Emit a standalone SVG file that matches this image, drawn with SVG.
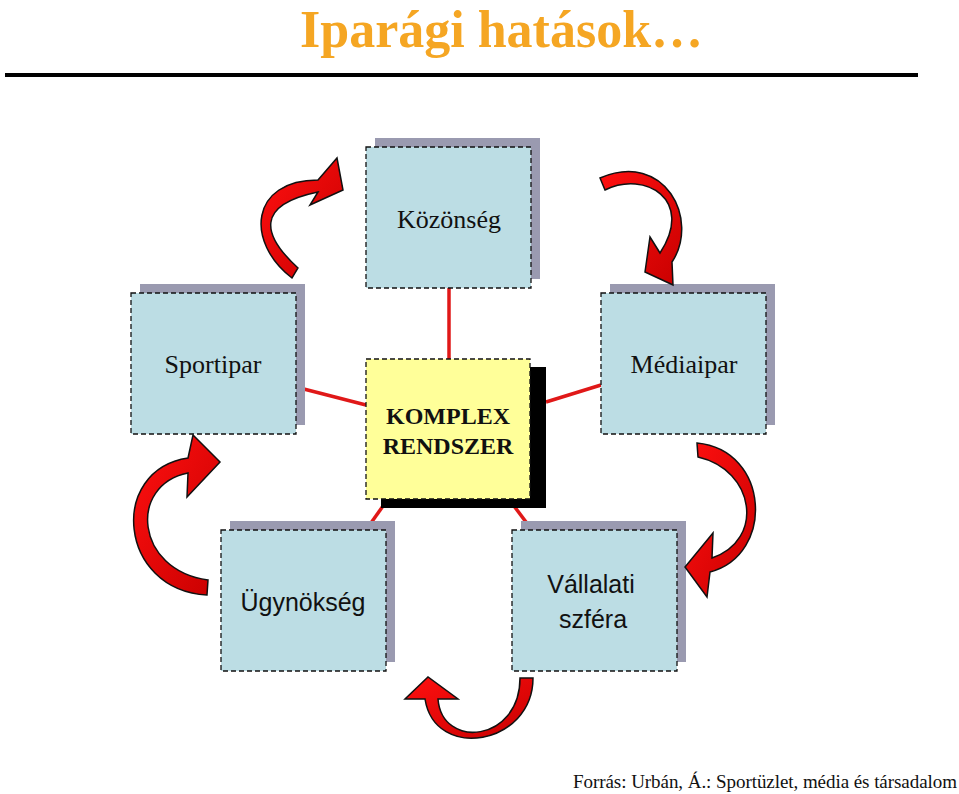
<svg xmlns="http://www.w3.org/2000/svg" width="959" height="794" viewBox="0 0 959 794">
<defs>
<linearGradient id="rg" x1="0" y1="0" x2="1" y2="1"><stop offset="0" stop-color="#ff1010"/><stop offset="1" stop-color="#c80000"/></linearGradient>
</defs>
<style>
.sh{fill:#9a9ab0}
.bx{fill:#bcdde4;stroke:#111;stroke-width:1.3;stroke-dasharray:5 3}
.t{font-family:"Liberation Serif",serif;font-size:26px;fill:#111;text-anchor:middle}
.s{font-family:"Liberation Sans",sans-serif;font-size:25px;fill:#111;text-anchor:middle}
.ar{fill:url(#rg);stroke:#111;stroke-width:1.5;stroke-linejoin:miter}
.ln{stroke:#e01818;stroke-width:3.5}
</style>
<rect width="959" height="794" fill="#fff"/>
<text x="300" y="47" font-family="Liberation Serif,serif" font-size="52" font-weight="bold" fill="#f5a623">Iparági hatások…</text>
<line x1="5" y1="75" x2="918" y2="75" stroke="#000" stroke-width="4"/>
<g id="connectors">
<line class="ln" x1="449" y1="288" x2="449" y2="359"/>
<line class="ln" x1="296" y1="387" x2="366" y2="405"/>
<line class="ln" x1="601" y1="385" x2="546" y2="402"/>
<line class="ln" x1="383" y1="506" x2="366" y2="530"/>
<line class="ln" x1="514" y1="506" x2="532" y2="530"/>
</g>
<g id="kozonseg"><rect class="sh" x="375" y="138" width="165" height="141"/><rect class="bx" x="366" y="147" width="165" height="141"/><text class="t" x="449" y="228">Közönség</text></g>
<g id="sportipar"><rect class="sh" x="140" y="284" width="165" height="141"/><rect class="bx" x="131" y="293" width="165" height="141"/><text class="t" x="213" y="373">Sportipar</text></g>
<g id="mediaipar"><rect class="sh" x="610" y="284" width="165" height="141"/><rect class="bx" x="601" y="293" width="165" height="141"/><text class="t" x="684" y="373">Médiaipar</text></g>
<g id="ugynokseg"><rect class="sh" x="230" y="521" width="165" height="141"/><rect class="bx" x="221" y="530" width="165" height="141"/><text class="s" x="303" y="611">Ügynökség</text></g>
<g id="vallalati"><rect class="sh" x="521" y="521" width="165" height="141"/><rect class="bx" x="512" y="530" width="165" height="141"/><text class="s" x="591" y="593">Vállalati</text><text class="s" x="593" y="628">szféra</text></g>
<g id="komplex"><rect x="381" y="367" width="165" height="141" fill="#000"/><rect x="366" y="359" width="164" height="140" fill="#ffff99" stroke="#111" stroke-width="1.3" stroke-dasharray="5 3"/><text x="448" y="424" font-family="Liberation Serif,serif" font-size="24" font-weight="bold" text-anchor="middle" fill="#111">KOMPLEX</text><text x="448" y="454" font-family="Liberation Serif,serif" font-size="24" font-weight="bold" text-anchor="middle" fill="#111">RENDSZER</text></g>
<g id="arrows">
<path class="ar" d="M298,268 C262,235 255,205 318,192 L310,205 L343,190 L337,158 L318,180 C250,180 245,242 292,278 Z"/>
<path class="ar" d="M605,190 C645,170 695,200 660,253 L650,237 L645,272 L673,285 L672,262 C700,220 665,150 600,178 Z"/>
<path class="ar" d="M698,457 C755,470 765,540 712,558 L713,533 L685,567 L707,597 L710,572 C775,555 770,450 697,443 Z"/>
<path class="ar" d="M520,678 C520,742 442,750 438,699 L458,699 L428,677 L405,699 L425,699 C435,762 533,745 533,678 Z"/>
<path class="ar" d="M208,580 C135,570 128,485 188,473 L187,497 L220,462 L193,435 L188,458 C108,470 118,590 207,595 Z"/>
</g>
<text x="573" y="788" font-family="Liberation Serif,serif" font-size="19" fill="#111" textLength="384" lengthAdjust="spacing">Forrás: Urbán, Á.: Sportüzlet, média és társadalom</text>
</svg>
